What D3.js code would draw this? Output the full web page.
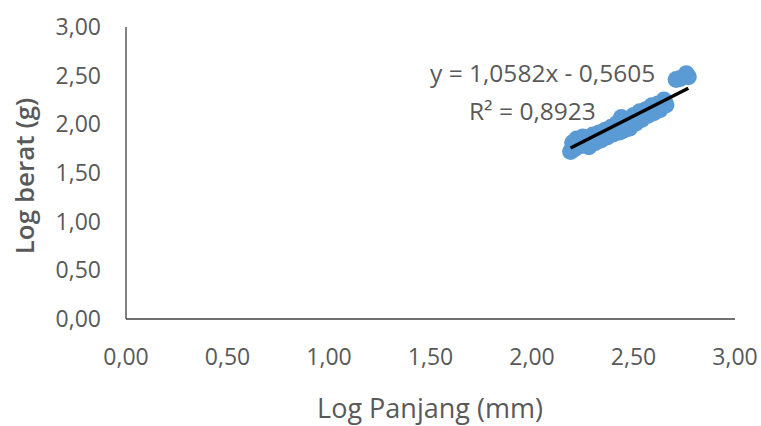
<!DOCTYPE html>
<html><head><meta charset="utf-8">
<script src="https://cdn.jsdelivr.net/npm/d3@7"></script>
<style>body{margin:0;background:#fff}svg{display:block}</style>
</head><body>
<svg id="c" width="761" height="426"></svg>
<script>
const xVals = [2.19,2.20,2.21,2.22,2.24,2.25,2.27,2.28,2.30,2.31,2.33,2.34,2.36,2.37,2.39,2.40,2.42,2.43,2.44,2.45,2.47,2.48,2.50,2.51,2.53,2.54,2.56,2.57,2.59,2.60,2.62,2.63,2.65,2.66,2.71,2.73,2.76,2.77];
const yVals = [1.72,1.81,1.75,1.85,1.78,1.87,1.83,1.77,1.89,1.81,1.91,1.84,1.94,1.87,1.97,1.90,2.01,1.92,2.07,1.94,2.03,1.96,2.09,2.01,2.13,2.05,2.15,2.09,2.19,2.12,2.21,2.15,2.25,2.20,2.46,2.47,2.52,2.49];
const xTicks = [0,0.5,1,1.5,2,2.5,3];
const yTicks = [0,0.5,1,1.5,2,2.5,3];
const slope = 1.0582, intercept = -0.5605;
const trendX = [2.19, 2.77];
const eqText = "y = 1,0582x - 0,5605";
const r2Text = "R² = 0,8923";

const svg = d3.select("#c");
const font = "'Open Sans', sans-serif";
const grey = "#595959";
const x = d3.scaleLinear().domain([0,3]).range([126,735]);
const y = d3.scaleLinear().domain([0,3]).range([319,27]);
const fmt = d => d3.format(".2f")(d).replace(".", ",");

svg.append("line").attr("x1",x(0)).attr("x2",x(3)).attr("y1",y(0)).attr("y2",y(0)).attr("stroke","#404040").attr("stroke-width",1.3);
svg.append("line").attr("x1",x(0)).attr("x2",x(0)).attr("y1",y(0)).attr("y2",y(3)).attr("stroke","#404040").attr("stroke-width",1.3);

svg.selectAll(".xt").data(xTicks).enter().append("text")
  .attr("x",d=>x(d)).attr("y",365).attr("text-anchor","middle")
  .attr("font-family",font).attr("font-size",23).attr("fill",grey).text(fmt);
svg.selectAll(".yt").data(yTicks).enter().append("text")
  .attr("x",101).attr("y",d=>y(d)+8).attr("text-anchor","end")
  .attr("font-family",font).attr("font-size",23).attr("fill",grey).text(fmt);

svg.append("text").attr("x",430).attr("y",418).attr("text-anchor","middle")
  .attr("font-family",font).attr("font-size",27).attr("fill",grey).text("Log Panjang (mm)");
svg.append("text").attr("transform","translate(34,176) rotate(-90)").attr("text-anchor","middle")
  .attr("font-family",font).attr("font-size",26).attr("font-weight",600).attr("fill",grey).text("Log berat (g)");

const pts = xVals.map((v,i)=>[v,yVals[i]]);
svg.selectAll(".p").data(pts).enter().append("circle")
  .attr("cx",d=>x(d[0])).attr("cy",d=>y(d[1])).attr("r",8.5).attr("fill","#5B9BD5");

svg.append("line").attr("x1",x(trendX[0])).attr("y1",y(slope*trendX[0]+intercept))
  .attr("x2",x(trendX[1])).attr("y2",y(slope*trendX[1]+intercept))
  .attr("stroke","#000").attr("stroke-width",3.5);

svg.append("text").attr("x",430).attr("y",82).attr("font-family",font).attr("font-size",24.5).attr("fill",grey).text(eqText);
svg.append("text").attr("x",469).attr("y",120).attr("font-family",font).attr("font-size",24.5).attr("fill",grey).text(r2Text);
</script>
</body></html>
